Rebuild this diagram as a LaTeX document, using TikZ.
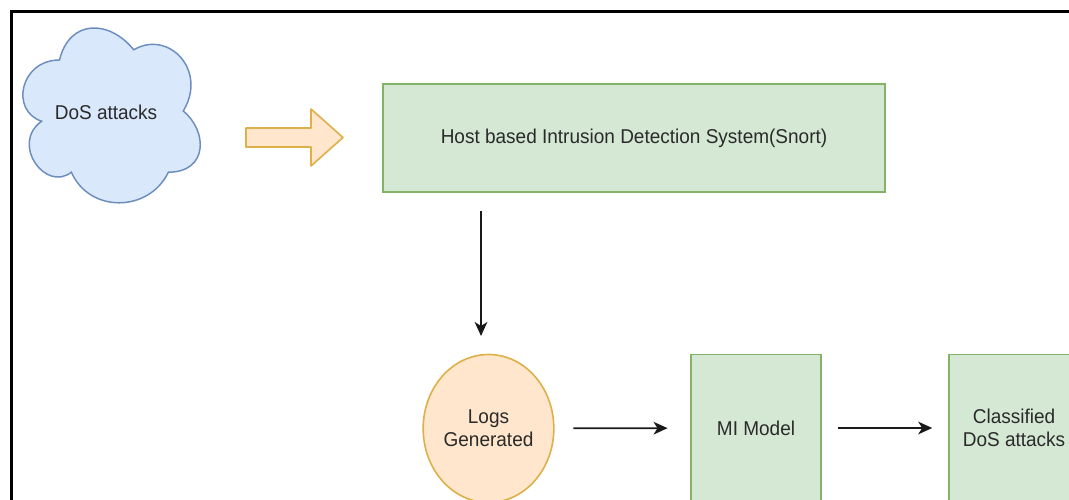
\documentclass[tikz,border=0pt]{standalone}
\usepackage{fontspec}
\setmainfont{Liberation Sans}[FakeStretch=0.95]
\usetikzlibrary{arrows.meta,shapes.geometric}
\definecolor{bluefill}{HTML}{DAE8FC}
\definecolor{bluestroke}{HTML}{6C8EBF}
\definecolor{greenfill}{HTML}{D5E8D4}
\definecolor{greenstroke}{HTML}{82B366}
\definecolor{orangefill}{HTML}{FFE6CC}
\definecolor{orangestroke}{HTML}{DDB04A}
\definecolor{txtcol}{HTML}{2A2A2A}
\tikzset{
  lbl/.style={font=\fontsize{15}{17.5}\selectfont, text=txtcol, align=center},
  greenbox/.style={lbl, draw=greenstroke, fill=greenfill, line width=1.2pt, inner sep=0pt},
  orangeell/.style={lbl, ellipse, draw=orangestroke, fill=orangefill, line width=1.2pt, inner sep=0pt},
  arr/.style={draw=black!90, line width=1.3pt, -{Stealth[length=10.5pt,width=9.5pt,inset=3pt]}},
}
\begin{document}
\begin{tikzpicture}[x=0.75pt,y=-0.75pt]
\useasboundingbox (0,0) rectangle (1069,499);
\clip (0,0) rectangle (1069,499);
\fill[white] (0,0) rectangle (1069,499);
% frame
\draw[line width=1.9pt, black] (11.3,520) -- (11.3,11.3) -- (1090,11.3);
% cloud
\begin{scope}[shift={(10,9)}, x=148.5pt, y=-153pt]
\draw[draw=bluestroke, fill=bluefill, line width=1.1pt]
  (0.25,0.25) .. controls (0.05,0.25) and (0,0.5) .. (0.16,0.55)
  .. controls (0,0.66) and (0.18,0.9) .. (0.31,0.8)
  .. controls (0.4,1) and (0.7,1) .. (0.8,0.8)
  .. controls (1,0.8) and (1,0.6) .. (0.875,0.5)
  .. controls (1,0.3) and (0.8,0.1) .. (0.625,0.2)
  .. controls (0.5,0.05) and (0.3,0.05) .. (0.25,0.25) -- cycle;
\end{scope}
\node[lbl] (dos) at (106,112) {DoS attacks};
% block arrow
\draw[draw=orangestroke, fill=orangefill, line width=1.2pt, line join=round]
  (246,128) -- (311,128) -- (311,109) -- (343,137.5) -- (311,166) -- (311,147) -- (246,147) -- cycle;
% host box
\node[greenbox, minimum width=376.5pt, minimum height=81pt] (host) at (634,138) {Host based Intrusion Detection System(Snort)};
% logs
\node[orangeell, minimum width=98pt, minimum height=111pt] (logs) at (488.5,428.5) {Logs\\Generated};
% ml model
\node[greenbox, minimum width=97.5pt, minimum height=110pt] (ml) at (756,428) {MI Model};
% classified
\node[greenbox, minimum width=97.5pt, minimum height=110pt] (cls) at (1014,428) {Classified\\DoS attacks};
% connectors
\coordinate (d1) at (481,211);
\coordinate (d2) at (481,336);
\draw[arr] (d1) -- (d2);
\draw[arr, shorten <=14pt, shorten >=17pt] (logs) -- (ml);
\draw[arr, shorten <=12pt, shorten >=12pt] (ml) -- (cls);
\end{tikzpicture}
\end{document}
